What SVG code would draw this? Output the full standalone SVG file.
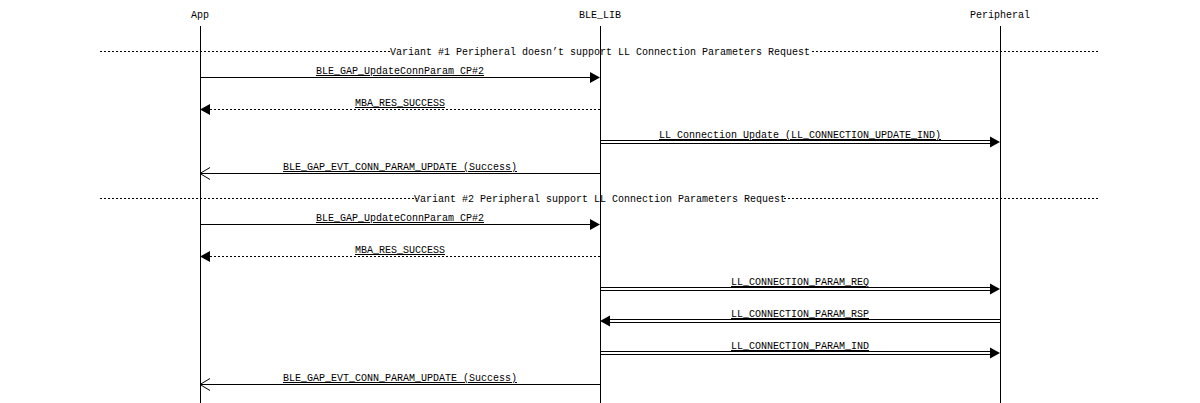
<svg xmlns="http://www.w3.org/2000/svg" width="1200" height="403" viewBox="0 0 1200 403">
<style>
text{font-family:"Liberation Mono","DejaVu Sans Mono",monospace;font-size:10px;fill:#000;text-anchor:middle}
.lbl{text-decoration:underline;text-decoration-color:#000}
.life{stroke:#000;stroke-width:1}
.sol{stroke:#000;stroke-width:1;fill:none}
.dash{stroke:#000;stroke-width:1;fill:none;stroke-dasharray:2,2}
.div{stroke:#000;stroke-width:1;stroke-dasharray:2,2}
.fill{fill:#000;stroke:none}
</style>
<rect width="1200" height="403" fill="#fff"/>
<g id="App"><text x="200" y="18">App</text><line class="life" x1="200.5" y1="26" x2="200.5" y2="403"/></g>
<g id="BLE_LIB"><text x="600" y="18">BLE_LIB</text><line class="life" x1="600.5" y1="26" x2="600.5" y2="403"/></g>
<g id="Peripheral"><text x="1000" y="18">Peripheral</text><line class="life" x1="1000.5" y1="26" x2="1000.5" y2="403"/></g>
<g id="dividers">
<line class="div" x1="100" y1="51.5" x2="1100" y2="51.5"/>
<rect x="390" y="45" width="420" height="12" fill="#fff"/>
<text x="600" y="55">Variant #1 Peripheral doesn’t support LL Connection Parameters Request</text>
<line class="div" x1="100" y1="198.5" x2="1100" y2="198.5"/>
<rect x="417" y="192" width="366" height="12" fill="#fff"/>
<text x="600" y="202">Variant #2 Peripheral support LL Connection Parameters Request</text>
<line class="life" x1="600.5" y1="40" x2="600.5" y2="62"/>
<line class="life" x1="200.5" y1="40" x2="200.5" y2="62"/>
<line class="life" x1="1000.5" y1="40" x2="1000.5" y2="62"/>
<line class="life" x1="600.5" y1="188" x2="600.5" y2="210"/>
<line class="life" x1="200.5" y1="188" x2="200.5" y2="210"/>
<line class="life" x1="1000.5" y1="188" x2="1000.5" y2="210"/>
</g>
<g id="connectors">
<line class="sol" x1="200" y1="77.5" x2="590" y2="77.5"/><polygon class="fill" points="600,77.5 590,72 590,83"/>
<text class="lbl" x="400" y="74">BLE_GAP_UpdateConnParam CP#2</text>
<line class="dash" x1="600" y1="109.5" x2="210" y2="109.5"/><polygon class="fill" points="200,109.5 210,104 210,115"/>
<text class="lbl" x="400" y="106">MBA_RES_SUCCESS</text>
<line class="sol" x1="600" y1="140.5" x2="992" y2="140.5"/><line class="sol" x1="600" y1="143.5" x2="992" y2="143.5"/><polygon class="fill" points="1000,142 990,136.5 990,147.5"/>
<text class="lbl" x="800" y="138">LL Connection Update (LL_CONNECTION_UPDATE_IND)</text>
<line class="sol" x1="600" y1="173.5" x2="200" y2="173.5"/><polyline class="sol" points="210,167.5 200,173.5 210,179.5"/>
<text class="lbl" x="400" y="170">BLE_GAP_EVT_CONN_PARAM_UPDATE (Success)</text>
<line class="sol" x1="200" y1="224.5" x2="590" y2="224.5"/><polygon class="fill" points="600,224.5 590,219 590,230"/>
<text class="lbl" x="400" y="221">BLE_GAP_UpdateConnParam CP#2</text>
<line class="dash" x1="600" y1="256.5" x2="210" y2="256.5"/><polygon class="fill" points="200,256.5 210,251 210,262"/>
<text class="lbl" x="400" y="253">MBA_RES_SUCCESS</text>
<line class="sol" x1="600" y1="287.5" x2="992" y2="287.5"/><line class="sol" x1="600" y1="290.5" x2="992" y2="290.5"/><polygon class="fill" points="1000,289 990,283.5 990,294.5"/>
<text class="lbl" x="800" y="285">LL_CONNECTION_PARAM_REQ</text>
<line class="sol" x1="1000" y1="319.5" x2="608" y2="319.5"/><line class="sol" x1="1000" y1="322.5" x2="608" y2="322.5"/><polygon class="fill" points="600,321 610,315.5 610,326.5"/>
<text class="lbl" x="800" y="317">LL_CONNECTION_PARAM_RSP</text>
<line class="sol" x1="600" y1="351.5" x2="992" y2="351.5"/><line class="sol" x1="600" y1="354.5" x2="992" y2="354.5"/><polygon class="fill" points="1000,353 990,347.5 990,358.5"/>
<text class="lbl" x="800" y="349">LL_CONNECTION_PARAM_IND</text>
<line class="sol" x1="600" y1="384.5" x2="200" y2="384.5"/><polyline class="sol" points="210,378.5 200,384.5 210,390.5"/>
<text class="lbl" x="400" y="381">BLE_GAP_EVT_CONN_PARAM_UPDATE (Success)</text>
</g>
</svg>
